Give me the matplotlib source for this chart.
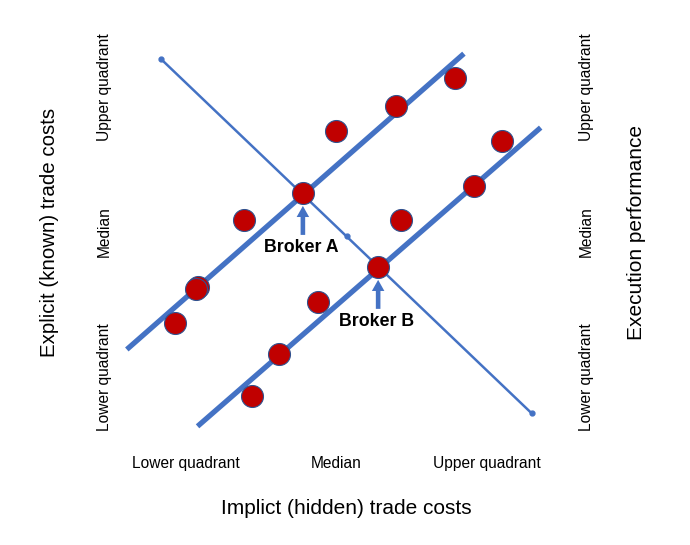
import matplotlib.pyplot as plt

plt.rcParams['font.family'] = ['Liberation Sans', 'DejaVu Sans']

blue = "#4472C4"
red = "#C00000"

# broker observations (1 = lower quadrant, 2 = median, 3 = upper quadrant)
implicit = [2.79, 2.40, 2.00, 3.10, 2.92, 1.78, 1.39, 2.43, 2.28, 1.08, 1.07, 1.88, 0.93, 1.62, 1.44]
explicit = [3.06, 2.87, 2.70, 2.63, 2.32, 2.27, 2.08, 2.08, 1.76, 1.62, 1.61, 1.52, 1.37, 1.16, 0.87]

# trend lines
line_a_x = [0.61, 2.85]
line_a_y = [1.19, 3.23]
line_b_x = [1.08, 3.36]
line_b_y = [0.66, 2.72]
diag_x = [0.84, 2.07, 3.30]
diag_y = [3.19, 1.97, 0.75]

brokers = ["Broker A", "Broker B"]
broker_x = [1.78, 2.28]
broker_y = [2.27, 1.76]

ticks = [1, 2, 3]
tick_labels = ["Lower quadrant", "Median", "Upper quadrant"]

fig = plt.figure(figsize=(6.9, 5.45), dpi=100)
ax = fig.add_axes([0.1598, 0.1752, 0.6543, 0.7982])

ax.plot(diag_x, diag_y, color=blue, lw=1.8, marker="o", ms=3.5, zorder=1)
ax.plot(line_a_x, line_a_y, color=blue, lw=3.8, solid_capstyle="butt", zorder=2)
ax.plot(line_b_x, line_b_y, color=blue, lw=3.8, solid_capstyle="butt", zorder=2)
ax.scatter(implicit, explicit, s=250, color=red, edgecolor="#2F528F", linewidth=0.8, zorder=3)

for name, bx, by in zip(brokers, broker_x, broker_y):
    ax.annotate("", xy=(bx, by - 0.09), xytext=(bx, by - 0.29),
                arrowprops=dict(arrowstyle="simple,head_width=0.9,head_length=0.8,tail_width=0.33",
                                mutation_scale=10, color=blue, lw=0, shrinkA=0, shrinkB=0))
    ax.text(bx - 0.01, by - 0.38, name, ha="center", va="center", fontsize=12.8, fontweight="bold")

ax.set_xlim(0.5, 3.5)
ax.set_ylim(0.5, 3.5)
for s in ax.spines.values():
    s.set_visible(False)
ax.set_xticks(ticks, tick_labels, fontsize=11.2)
ax.set_yticks(ticks, tick_labels, fontsize=11.2, rotation=90, va="center")
ax.tick_params(axis="y", length=0, pad=-1)
ax.tick_params(axis="x", length=0, pad=5)
ax.set_xlabel("Implict (hidden) trade costs", fontsize=15, labelpad=20)
ax.xaxis.label.set_x(0.522)
ax.set_ylabel("Explicit (known) trade costs", fontsize=14.8, labelpad=27)

ax2 = ax.twinx()
ax2.set_ylim(0.5, 3.5)
for s in ax2.spines.values():
    s.set_visible(False)
ax2.set_yticks(ticks, tick_labels, fontsize=11.2, rotation=90, va="center")
ax2.tick_params(length=0, pad=12.5)
ax2.set_ylabel("Execution performance", fontsize=15, labelpad=24)

fig.savefig("out.png")
